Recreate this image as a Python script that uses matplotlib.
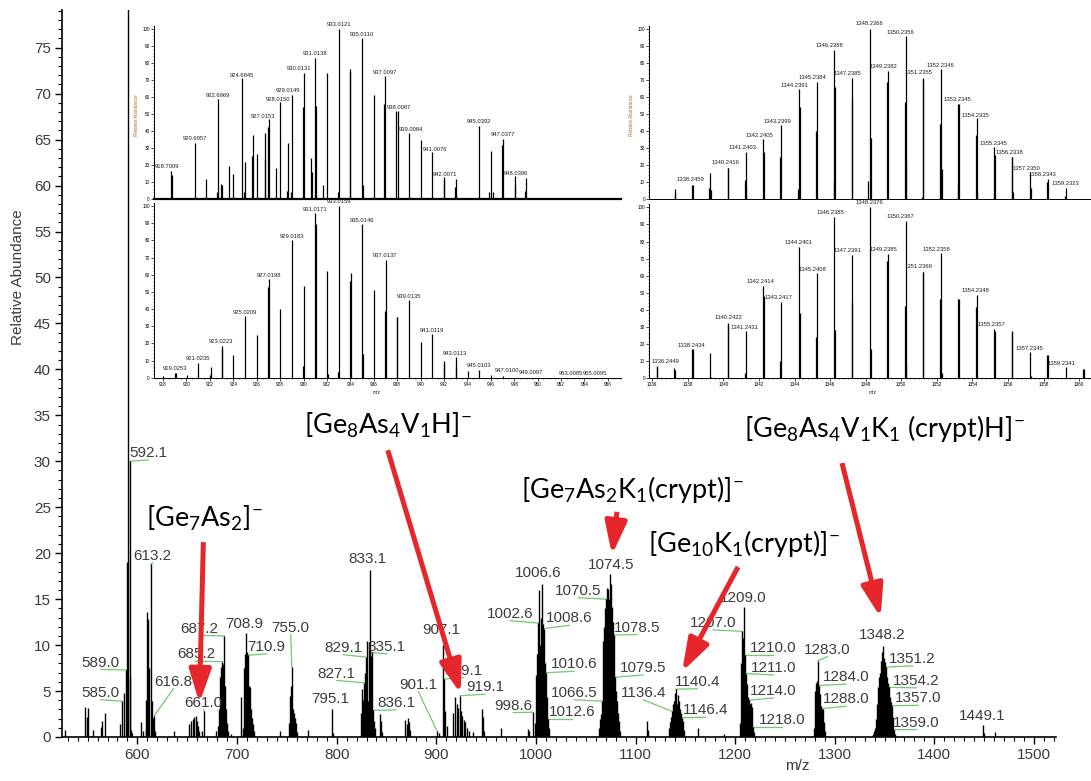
import matplotlib.pyplot as plt
from matplotlib.patches import FancyArrowPatch
from matplotlib.ticker import MultipleLocator

plt.rcParams["font.family"] = ["Liberation Sans", "DejaVu Sans"]
plt.rcParams["mathtext.fontset"] = "custom"
plt.rcParams["mathtext.rm"] = "Lato"
plt.rcParams["mathtext.it"] = "Lato:italic"
plt.rcParams["mathtext.bf"] = "Lato:bold"

# ---- main spectrum (m/z, relative abundance) ----
main_mz = [
    527.5, 547.7, 549.0, 550.5, 555.0, 563.0, 564.5, 567.6,
    583.0, 585.0, 587.0, 589.0, 590.0, 591.0, 592.1, 593.0, 594.0, 595.0,
    604.0, 606.0,
    608.5, 609.0, 610.0, 611.0, 612.0, 613.2, 614.2, 615.0, 616.0, 616.8, 618.0,
    636.5,
    651.8, 653.5, 655.5, 657.1, 658.5, 659.5, 661.0, 662.1, 664.5, 667.0,
    678.5,
    681.2, 682.2, 683.2, 684.2, 685.2, 686.2, 687.2, 688.2, 689.2, 690.2, 691.2, 694.0,
    703.9, 705.9, 706.9, 707.9, 708.9, 709.9, 710.9, 711.9, 712.9, 713.9, 714.9, 715.9, 716.9,
    743.5,
    752.0, 753.0, 754.0, 755.0, 756.0, 757.0, 758.0, 759.0, 760.0,
    771.0, 795.1, 796.1,
    824.1, 825.1, 826.1, 827.1, 828.1, 829.1, 830.1, 831.1, 832.1, 833.1, 834.1, 835.1,
    836.1, 837.1, 838.1, 844.0, 845.0, 846.0,
    869.0, 871.0, 872.0, 873.0, 874.0,
    900.5, 903.0, 907.1, 908.1, 909.1, 910.5, 917.1, 918.8, 920.5, 922.2, 923.9, 924.9,
    926.0, 927.5, 929.0, 930.5, 933.0, 936.6,
    945.6, 946.6, 948.0, 964.8, 992.4, 993.4, 997.1,
    999.6, 1000.6, 1001.6, 1002.6, 1003.6, 1004.6, 1005.6, 1006.6, 1007.6, 1008.6,
    1009.6, 1010.6, 1011.6, 1012.6, 1013.6,
    1063.5, 1064.5, 1065.5, 1066.5, 1067.5, 1068.5, 1069.5, 1070.5, 1071.5, 1072.5,
    1073.5, 1074.5, 1075.5, 1076.5, 1077.5, 1078.5, 1079.5, 1080.5, 1081.5, 1082.5,
    1083.5, 1084.5,
    1111.2, 1112.5,
    1133.4, 1134.4, 1135.4, 1136.4, 1137.4, 1138.4, 1139.4, 1140.4, 1141.4, 1142.4,
    1143.4, 1144.4, 1145.4, 1146.4, 1147.4, 1148.4,
    1162.5, 1188.4,
    1205.0, 1206.0, 1207.0, 1208.0, 1209.0, 1210.0, 1211.0, 1212.0, 1213.0, 1214.0,
    1215.0, 1216.0, 1217.0, 1218.0, 1219.0,
    1279.0, 1280.0, 1281.0, 1282.0, 1283.0, 1284.0, 1285.0, 1286.0, 1287.0, 1288.0,
    1289.0, 1290.0,
    1338.2, 1339.2, 1340.2, 1341.2, 1342.2, 1343.2, 1344.2, 1345.2, 1346.2, 1347.2,
    1348.2, 1349.2, 1350.2, 1351.2, 1352.2, 1353.2, 1354.2, 1355.2, 1356.2, 1357.0,
    1358.0, 1359.0, 1360.0,
    1449.1, 1450.1, 1460.6,
]
main_ab = [
    0.8, 3.3, 2.2, 3.2, 0.8, 1.1, 1.7, 2.6,
    1.4, 3.9, 4.8, 7.3, 19.0, 100.0, 30.0, 6.5, 0.8, 0.4,
    1.6, 0.7,
    0.9, 4.0, 13.6, 12.8, 7.5, 18.8, 3.9, 1.5, 2.1, 2.3, 0.6,
    0.7,
    1.4, 1.7, 2.0, 2.2, 2.3, 1.7, 1.2, 0.7, 0.6, 2.8,
    0.7,
    1.2, 3.0, 6.5, 7.6, 8.2, 7.9, 11.0, 5.5, 3.0, 1.5, 0.6, 0.3,
    4.4, 1.0, 7.5, 9.0, 11.3, 9.2, 8.9, 5.5, 5.4, 3.0, 2.1, 1.4, 0.6,
    0.7,
    1.5, 4.5, 5.5, 7.6, 3.0, 2.6, 2.1, 1.5, 0.5,
    0.8, 3.1, 0.4,
    2.6, 5.2, 4.0, 5.9, 7.0, 8.7, 10.4, 3.9, 10.3, 18.2, 8.8, 9.2,
    2.9, 1.7, 1.0, 2.5, 1.7, 0.5,
    1.9, 1.4, 2.1, 1.6, 0.8,
    0.7, 0.4, 10.0, 6.3, 2.8, 1.2, 2.6, 4.3, 3.6, 3.2, 4.5, 2.8,
    2.3, 1.9, 1.6, 1.0, 0.65, 0.5,
    3.1, 2.2, 0.6, 1.0, 0.9, 0.7, 2.7,
    1.5, 6.8, 9.0, 12.4, 16.0, 10.0, 13.0, 16.6, 12.3, 11.8,
    8.1, 7.0, 4.3, 2.0, 1.0,
    1.0, 2.0, 2.5, 3.9, 10.4, 12.0, 14.0, 15.0, 16.2, 16.1,
    15.0, 17.7, 16.6, 14.1, 12.5, 11.1, 6.5, 5.0, 3.9, 2.6,
    1.7, 0.7,
    1.7, 0.8,
    1.0, 1.6, 2.2, 2.8, 3.6, 3.9, 4.8, 5.2, 3.6, 4.6,
    3.9, 3.0, 2.6, 2.1, 1.7, 0.8,
    1.0, 0.3,
    1.5, 8.0, 11.5, 10.8, 14.1, 8.9, 6.9, 5.8, 4.4, 4.0,
    3.6, 3.7, 3.3, 1.1, 0.5,
    1.0, 5.0, 5.9, 6.1, 8.3, 5.6, 4.7, 3.4, 3.0, 3.1,
    1.6, 0.7,
    0.3, 0.6, 1.0, 2.0, 3.6, 5.4, 6.5, 7.0, 8.3, 9.2,
    9.9, 8.6, 8.2, 7.6, 6.5, 5.9, 5.4, 4.3, 3.8, 3.4,
    2.2, 0.8, 0.3,
    1.3, 0.4, 0.5,
]

# peak labels: text, peak it belongs to, label position (m/z, abundance), leader line
main_labels = [
    ("589.0", 589.0, 563.2, 8.1, True), ("585.0", 585.0, 563.2, 4.8, True),
    ("592.1", 592.1, 611.0, 30.9, True), ("613.2", 613.2, 615.4, 19.7, True),
    ("616.8", 616.8, 636.1, 6.0, True), ("661.0", 667.0, 666.2, 3.7, True),
    ("685.2", 685.2, 658.8, 9.0, True), ("687.2", 687.2, 662.2, 11.8, True),
    ("708.9", 708.9, 707.0, 12.3, False), ("710.9", 710.9, 729.8, 9.8, True),
    ("755.0", 755.0, 753.9, 11.9, True), ("795.1", 795.1, 793.4, 4.1, False),
    ("827.1", 827.1, 800.1, 6.9, True), ("829.1", 829.1, 806.7, 9.7, True),
    ("833.1", 833.1, 830.8, 19.4, False), ("835.1", 835.1, 850.3, 9.8, True),
    ("836.1", 836.1, 859.6, 3.7, True), ("901.1", 900.5, 882.0, 5.7, True),
    ("907.1", 907.1, 905.4, 11.6, False), ("909.1", 908.1, 927.1, 7.2, True),
    ("919.1", 923.9, 948.9, 5.4, True), ("998.6", 997.1, 977.3, 3.4, True),
    ("1002.6", 1002.6, 974.0, 13.4, True), ("1006.6", 1006.6, 1002.5, 17.8, False),
    ("1008.6", 1008.6, 1033.6, 12.9, True), ("1010.6", 1010.6, 1038.3, 7.9, True),
    ("1012.6", 1012.6, 1036.0, 2.75, True), ("1066.5", 1066.5, 1038.3, 4.8, True),
    ("1070.5", 1070.5, 1042.6, 15.9, True), ("1074.5", 1074.5, 1075.1, 18.7, False),
    ("1078.5", 1078.5, 1101.8, 11.9, True), ("1079.5", 1079.5, 1107.8, 7.5, True),
    ("1136.4", 1136.4, 1107.8, 4.8, True), ("1140.4", 1140.4, 1162.0, 6.0, True),
    ("1146.4", 1146.4, 1170.8, 2.9, True), ("1207.0", 1207.0, 1177.8, 12.4, True),
    ("1209.0", 1209.0, 1208.3, 15.1, False), ("1210.0", 1210.0, 1238.3, 9.65, True),
    ("1211.0", 1211.0, 1238.3, 7.5, True), ("1214.0", 1214.0, 1238.3, 5.0, True),
    ("1218.0", 1218.0, 1246.8, 1.85, True), ("1283.0", 1283.0, 1292.6, 9.5, True),
    ("1284.0", 1284.0, 1311.4, 6.5, True), ("1288.0", 1288.0, 1311.4, 4.1, True),
    ("1348.2", 1348.2, 1347.7, 11.1, False), ("1351.2", 1351.2, 1378.2, 8.5, True),
    ("1354.2", 1354.2, 1382.2, 6.1, True), ("1357.0", 1357.0, 1383.8, 4.2, True),
    ("1359.0", 1359.0, 1382.2, 1.56, True), ("1449.1", 1449.1, 1448.1, 2.3, False),
]

# species assignments: text, text position, arrow tail, arrow head (m/z, abundance)
species = [
    (r"[Ge$_7$As$_2$]$^{-}$", (667.0, 23.8), (666.2, 21.2), (662.2, 3.7)),
    (r"[Ge$_8$As$_4$V$_1$H]$^{-}$", (851.3, 33.9), (851.3, 31.2), (924.5, 4.7)),
    (r"[Ge$_7$As$_2$K$_1$(crypt)]$^{-}$", (1097.0, 26.9), (1081.4, 24.5), (1076.4, 19.8)),
    (r"[Ge$_{10}$K$_1$(crypt)]$^{-}$", (1209.0, 21.1), (1202.9, 18.5), (1146.7, 7.1)),
    (r"[Ge$_8$As$_4$V$_1$K$_1$ (crypt)H]$^{-}$", (1350.0, 33.6), (1307.3, 29.8), (1346.1, 13.0)),
]

# ---- inset: isotope pattern near m/z 933 (measured / simulated) ----
lt_mz = [918.67, 918.73, 920.73, 921.68, 922.60, 922.66, 922.94, 923.03, 923.66, 923.97,
         924.72, 924.92, 925.01, 925.61, 925.67, 926.04, 926.67, 926.70, 926.96, 927.02,
         927.67, 928.02, 928.62, 928.68, 928.94, 929.00, 929.97, 930.03, 930.66, 930.72,
         930.97, 931.03, 931.66, 932.01, 932.95, 933.01, 933.96, 934.01, 934.96, 935.05,
         935.99, 936.91, 936.97, 937.94, 938.03, 938.98, 940.01, 941.01, 941.96, 942.02,
         942.91, 942.99, 943.05, 945.00, 945.86, 946.03, 946.15, 946.95, 947.01, 948.04,
         948.10, 948.93, 949.02]
lt_ab = [16.5, 14, 33, 12, 4, 59, 9, 8, 19.6, 15,
         71, 4, 22, 25.5, 37.5, 26.5, 39, 23, 42.5, 47,
         18, 57, 5, 33, 4, 61, 54, 74, 24, 16,
         83, 55, 8, 74, 4, 100, 75, 76.5, 94.5, 8,
         61, 56, 72.5, 51.5, 52, 38.6, 35, 27.6, 12, 13,
         7, 11.6, 3, 43, 4, 28, 4, 32, 35.5, 13.5,
         8, 5, 12.5]
lt_labels = [("918.7009", 918.3, 19.2), ("920.6957", 920.73, 35.3), ("922.6969", 922.66, 60.8),
             ("924.6945", 924.72, 72.9), ("927.0153", 926.5, 48.6), ("928.0150", 927.82, 58.8),
             ("929.0149", 928.71, 63.7), ("930.0131", 929.63, 76.5), ("931.0138", 930.97, 85.5),
             ("933.0121", 933.01, 102.7), ("935.0110", 934.96, 96.7), ("937.0097", 936.97, 74.7),
             ("938.0087", 938.12, 53.7), ("939.0084", 939.18, 40.6), ("941.0076", 941.21, 29.0),
             ("942.0071", 942.1, 14.7), ("945.0392", 945.0, 45.3), ("947.0377", 947.01, 38.0),
             ("948.0396", 948.18, 15.1)]

lb_mz = [918.01, 919.02, 919.08, 920.03, 921.02, 922.00, 922.06, 923.02, 923.08, 924.02,
         925.02, 926.02, 926.98, 927.04, 928.02, 929.02, 929.99, 930.05, 931.01, 931.07,
         931.99, 932.05, 932.95, 933.01, 933.96, 934.02, 934.98, 935.04, 936.01, 936.93,
         937.01, 937.96, 938.02, 939.00, 940.01, 941.01, 941.98, 942.04, 942.99, 943.05,
         944.02, 945.02, 946.00, 947.00]
lb_ab = [1.0, 3.0, 2.5, 1.7, 8.7, 1.7, 6.0, 18.6, 17.0, 13.0,
         36.0, 24.7, 53.0, 57.5, 40.0, 80.0, 6.8, 53.4, 96.0, 89.5,
         62.0, 2.0, 3.3, 100.0, 56.5, 61.0, 89.7, 14.0, 51.0, 39.0,
         68.5, 35.3, 35.3, 45.0, 21.0, 25.2, 8.7, 9.7, 12.2, 6.8,
         3.9, 4.5, 1.4, 1.2]
lb_labels = [("919.0253", 919.0, 5.6), ("921.0235", 920.96, 11.3), ("923.0223", 922.97, 20.8),
             ("925.0209", 925.01, 38.1), ("927.0198", 927.04, 59.8), ("929.0183", 929.0, 82.1),
             ("931.0171", 931.0, 98.1), ("933.0159", 933.01, 102.5), ("935.0146", 934.96, 91.8),
             ("937.0137", 937.0, 70.9), ("939.0135", 938.98, 47.4), ("941.0119", 940.98, 27.4),
             ("943.0113", 942.96, 14.0), ("945.0103", 945.0, 7.0), ("947.0100", 947.41, 4.1),
             ("949.0097", 949.42, 3.1), ("953.0085", 952.86, 2.7), ("955.0095", 954.87, 2.7)]

# ---- inset: isotope pattern near m/z 1348 (measured / simulated) ----
rt_mz = [1337.25, 1337.29, 1338.24, 1338.28, 1339.20, 1339.24, 1339.28, 1340.24, 1340.28,
         1341.20, 1341.24, 1341.28, 1342.24, 1342.28, 1343.20, 1343.24, 1344.20, 1344.24,
         1344.28, 1345.20, 1345.24, 1346.20, 1346.24, 1346.28, 1347.20, 1347.24, 1348.12,
         1348.24, 1348.28, 1349.20, 1349.24, 1350.20, 1350.24, 1350.28, 1351.14, 1351.20,
         1351.24, 1352.20, 1352.24, 1352.28, 1353.16, 1353.20, 1353.24, 1354.20, 1354.24,
         1354.28, 1355.20, 1355.24, 1355.28, 1356.20, 1356.24, 1356.28, 1357.24, 1357.28,
         1358.20, 1358.24, 1359.20, 1359.24]
rt_ab = [5.7, 3.7, 8.2, 8.2, 6.3, 15.3, 5.3, 18.4, 18.4,
         11.0, 27.6, 5.7, 35.5, 27.6, 24.5, 43.3, 5.7, 64.7,
         54.3, 40.0, 69.0, 11.0, 87.8, 65.7, 59.0, 71.4, 10.6,
         100.0, 35.7, 69.0, 75.3, 57.0, 95.9, 23.0, 1.0, 70.0,
         71.4, 44.0, 76.5, 17.5, 8.0, 55.7, 55.7, 37.5, 47.6,
         4.3, 2.0, 30.4, 25.9, 24.9, 24.9, 4.3, 15.9, 6.3,
         10.2, 11.6, 1.8, 6.7]
rt_labels = [("1338.2459", 1338.12, 11.2), ("1340.2416", 1340.12, 21.2), ("1341.2403", 1341.08, 30.2),
             ("1342.2405", 1342.0, 37.6), ("1343.2399", 1343.03, 45.5), ("1344.2391", 1344.02, 66.9),
             ("1345.2384", 1345.02, 71.6), ("1346.2388", 1345.95, 90.2), ("1347.2385", 1346.97, 74.1),
             ("1348.2366", 1348.2, 103.3), ("1349.2382", 1348.97, 77.8), ("1350.2356", 1349.93, 98.0),
             ("1351.2355", 1350.96, 74.5), ("1352.2346", 1352.18, 78.8), ("1353.2345", 1353.15, 58.6),
             ("1354.2335", 1354.17, 49.2), ("1355.2345", 1355.16, 32.5), ("1356.2338", 1356.08, 27.1),
             ("1357.2350", 1357.02, 18.0), ("1358.2343", 1357.94, 14.7), ("1359.2323", 1359.25, 9.4)]

rb_mz = [1336.24, 1336.28, 1337.24, 1337.28, 1338.24, 1338.28, 1339.24, 1339.28, 1340.24,
         1340.28, 1341.20, 1341.24, 1342.24, 1342.28, 1343.20, 1343.24, 1344.24, 1344.28,
         1345.20, 1345.24, 1346.24, 1346.28, 1347.20, 1347.24, 1348.24, 1348.28, 1349.20,
         1349.24, 1350.20, 1350.24, 1350.28, 1351.20, 1351.24, 1352.20, 1352.24, 1352.28,
         1353.20, 1353.24, 1354.20, 1354.24, 1354.28, 1355.24, 1355.28, 1356.20, 1356.24,
         1357.24, 1357.28, 1358.20, 1358.24, 1359.24, 1360.24, 1360.28]
rb_ab = [7.4, 6.8, 6.2, 4.7, 17.2, 17.2, 14.6, 1.0, 32.5,
         31.8, 3.3, 27.7, 54.0, 48.3, 10.1, 44.8, 76.8, 38.0,
         24.4, 61.6, 94.5, 28.3, 44.8, 72.1, 100.0, 17.3, 68.6,
         72.7, 42.3, 92.2, 8.4, 62.2, 62.4, 46.6, 73.0, 3.3,
         46.4, 46.4, 41.9, 49.0, 1.4, 28.7, 27.7, 27.3, 27.7,
         15.2, 1.4, 13.6, 13.6, 6.8, 5.5, 5.5]
rb_labels = [("1336.2449", 1336.71, 9.6), ("1338.2434", 1338.21, 19.3), ("1340.2422", 1340.27, 35.3),
             ("1341.2431", 1341.21, 30.0), ("1342.2414", 1342.09, 56.5), ("1343.2417", 1343.08, 47.2),
             ("1344.2401", 1344.23, 79.3), ("1345.2408", 1345.02, 63.4), ("1346.2385", 1346.03, 96.9),
             ("1347.2391", 1346.98, 74.5), ("1348.2376", 1348.18, 102.7), ("1349.2385", 1348.99, 75.4),
             ("1350.2367", 1349.93, 94.5), ("1351.2369", 1350.96, 65.3), ("1352.2358", 1351.99, 75.4),
             ("1354.2348", 1354.17, 51.3), ("1355.2357", 1355.08, 31.2), ("1357.2345", 1357.2, 17.2),
             ("1359.2341", 1359.02, 8.4)]

W, H = 1091, 781
TEXT = "#3c3c3c"
GREEN = "#74c774"
RED = "#e5262a"


def px_rect(x0, y0, x1, y1):
    # pixel box (left, top, right, bottom) -> figure fraction
    return [x0 / W, 1 - y1 / H, (x1 - x0) / W, (y1 - y0) / H]


fig = plt.figure(figsize=(W / 100, H / 100), dpi=100)

ax = fig.add_axes(px_rect(62, 10, 1056, 737))
ax.vlines(main_mz, 0, main_ab, color="black", lw=1.0)
ax.set_xlim(524.3, 1522.1)
ax.set_ylim(0, 79.1)
for s in ["top", "right"]:
    ax.spines[s].set_visible(False)
ax.spines["left"].set_linewidth(1.2)
ax.spines["bottom"].set_linewidth(1.2)
ax.xaxis.set_major_locator(MultipleLocator(100))
ax.xaxis.set_minor_locator(MultipleLocator(10))
ax.yaxis.set_major_locator(MultipleLocator(5))
ax.yaxis.set_minor_locator(MultipleLocator(1))
ax.tick_params(which="major", length=5, width=1, labelsize=11, labelcolor=TEXT, pad=3)
ax.tick_params(which="minor", length=3, width=0.8)
fig.text(18 / W, 1 - 277 / H, "Relative Abundance", rotation=90, fontsize=11,
         color=TEXT, ha="center", va="center")
fig.text(797 / W, 1 - 766 / H, "m/z", fontsize=11, color=TEXT, ha="center", va="center")

for text, pk, tx, ty, leader in main_labels:
    i = min(range(len(main_mz)), key=lambda k: abs(main_mz[k] - pk))
    if leader:
        ax.plot([tx, main_mz[i]], [ty - 0.75, main_ab[i]], color=GREEN, lw=0.9, zorder=1)
    ax.text(tx, ty, text, fontsize=11, color=TEXT, ha="center", va="center", zorder=3)

for text, (tx, ty), tail, head in species:
    ax.text(tx, ty, text, fontsize=19.5, family="Lato", ha="center", va="center")
    ax.add_patch(FancyArrowPatch(tail, head, arrowstyle="-|>,head_length=1.0,head_width=0.33",
                                 mutation_scale=20, lw=3.6, color=RED, shrinkA=0, shrinkB=0,
                                 capstyle="butt", zorder=4))


def inset(rect, mz, ab, xlim, labels, bottom, minor_step, spine_w):
    a = fig.add_axes(px_rect(*rect))
    a.patch.set_alpha(0)
    a.vlines(mz, 0, ab, color="black", lw=0.9)
    a.set_xlim(*xlim)
    a.set_ylim(0, 102)
    for s in ["top", "right"]:
        a.spines[s].set_visible(False)
    a.spines["left"].set_linewidth(0.7)
    a.spines["bottom"].set_linewidth(spine_w)
    a.yaxis.set_major_locator(MultipleLocator(10))
    a.yaxis.set_minor_locator(MultipleLocator(2))
    a.tick_params(axis="y", which="major", length=2, width=0.5, labelsize=3.3, pad=1)
    a.tick_params(axis="y", which="minor", length=1, width=0.4)
    if bottom:
        a.xaxis.set_major_locator(MultipleLocator(2))
        a.xaxis.set_minor_locator(MultipleLocator(minor_step))
        a.tick_params(axis="x", which="major", length=2, width=0.5, labelsize=3.3, pad=1)
        a.tick_params(axis="x", which="minor", length=1, width=0.4)
    else:
        a.tick_params(axis="x", which="both", length=0, labelbottom=False)
    for text, x, y in labels:
        a.text(x, y, text, fontsize=4.2, color="#202020", ha="center", va="center", clip_on=False)
    return a


inset((154, 25.6, 621, 199), lt_mz, lt_ab, (917.23, 957.12), lt_labels, False, 0.5, 1.6)
inset((154, 202.6, 621, 377.7), lb_mz, lb_ab, (917.23, 957.12), lb_labels, True, 0.5, 0.7)
inset((649.3, 25.6, 1090, 199), rt_mz, rt_ab, (1335.83, 1360.61), rt_labels, False, 0.25, 0.7)
inset((649.3, 203.9, 1090, 378.3), rb_mz, rb_ab, (1335.83, 1360.61), rb_labels, True, 0.25, 0.7)

for x in (136.7, 631.7):
    fig.text(x / W, 1 - 115 / H, "Relative Abundance", rotation=90, fontsize=3.3,
             color="#b5651d", ha="center", va="center")
for x in (376.7, 873.0):
    fig.text(x / W, 1 - 392.7 / H, "m/z", fontsize=3.5, color="#202020", ha="center", va="center")

fig.savefig("out.png", dpi=100)
